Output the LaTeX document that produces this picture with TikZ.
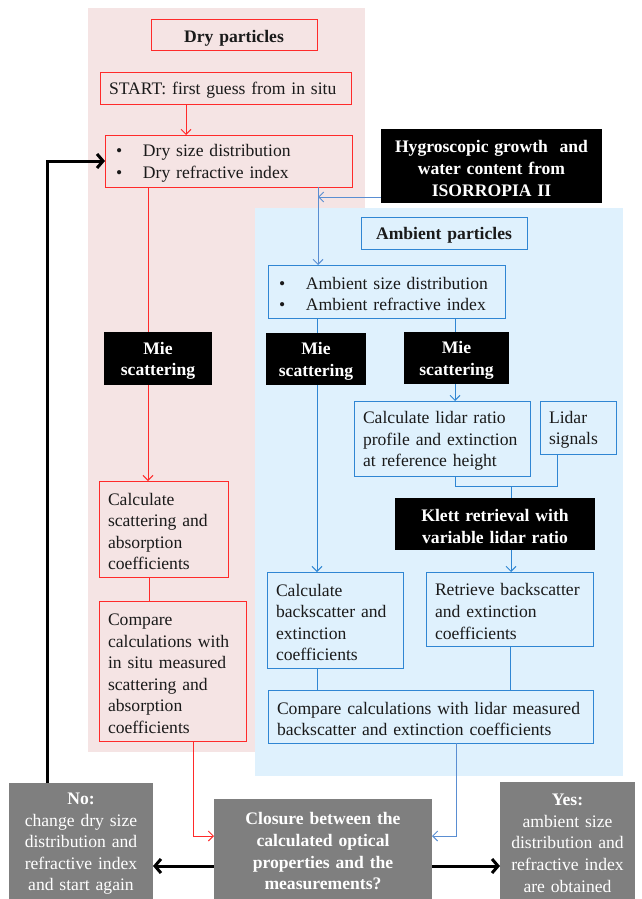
\documentclass[tikz,border=0pt]{standalone}
\usepackage{fontspec}
\setmainfont{Liberation Serif}
\usetikzlibrary{arrows.meta,calc}
\hyphenpenalty=10000
\exhyphenpenalty=10000
\definecolor{pinkbg}{HTML}{F5E4E4}
\definecolor{bluebg}{HTML}{DFF1FD}
\definecolor{redl}{HTML}{FF2A2A}
\definecolor{bluel}{HTML}{2F86D3}
\definecolor{bluea}{HTML}{5A8ED2}
\definecolor{grayb}{HTML}{7F7F7F}
\definecolor{txt}{HTML}{1A1A1A}
\newcommand\fs{\fontsize{17.6}{21.6}\selectfont}
\newcommand\mkbox[7]{%
  \pgfmathsetmacro\mkbw{#5-#3}%
  \pgfmathsetmacro\mkbh{#6-#4}%
  \pgfmathsetmacro\mktw{#5-#3-18}%
  \node[#1, anchor=north west, minimum width=\mkbw pt, minimum height=\mkbh pt, text width=\mktw pt] (#2) at (#3,#4) {\rule{0pt}{17pt}#7};%
}
\newcommand\bul{\makebox[27pt][l]{\textbullet}}
\begin{document}
\begin{tikzpicture}[x=1pt,y=-1pt,
  base/.style={inner xsep=9pt, inner ysep=1pt, outer sep=0pt, font=\fs, text=txt},
  rbox/.style={base, draw=redl, line width=1pt, align=left},
  bbox/.style={base, draw=bluel, line width=1pt, align=left},
  blk/.style={base, fill=black, text=white, font=\fs\bfseries, align=center},
  gry/.style={base, fill=grayb, text=white, align=center},
  rline/.style={draw=redl, line width=1pt},
  rarr/.style={rline, -{Straight Barb[length=5pt,width=10pt]}},
  bline/.style={draw=bluel, line width=1pt},
  barr/.style={bline, -{Straight Barb[length=5pt,width=10pt]}},
  barrA/.style={draw=bluea, line width=1pt, -{Straight Barb[length=5pt,width=10pt]}},
  karr/.style={draw=black, line width=3pt, -{Straight Barb[length=6pt,width=14pt]}}
]
\useasboundingbox (0,0) rectangle (641,899);
\fill[pinkbg] (88,8) rectangle (365,752);
\fill[bluebg] (255,208) rectangle (623,776);

\mkbox{rbox, align=center, font=\fs\bfseries}{dryp}{151}{20}{317}{51}{Dry particles}
\mkbox{rbox}{start}{100}{72}{351}{104}{START: first guess from in situ}
\mkbox{rbox, inner xsep=11pt}{drysz}{105}{135}{348}{187}{\bul Dry size distribution\\\bul Dry refractive index}
\mkbox{blk}{hyg}{381}{129}{602}{203}{Hygroscopic growth\ \ and\\water content from\\ISORROPIA II}
\mkbox{bbox, align=center, font=\fs\bfseries}{ambp}{361}{217}{527}{249}{Ambient particles}
\mkbox{bbox, inner xsep=11pt}{ambsz}{268}{265}{501}{318}{\bul Ambient size distribution\\\bul Ambient refractive index}
\mkbox{blk}{mie1}{104}{332}{212}{385}{Mie\\scattering}
\mkbox{blk}{mie2}{266}{333}{366}{385}{Mie\\scattering}
\mkbox{blk}{mie3}{404}{332}{509}{384}{Mie\\scattering}
\mkbox{bbox}{lidr}{354}{401}{530}{476}{Calculate lidar ratio\\profile and extinction\\at reference height}
\mkbox{bbox}{lsig}{540}{401}{616}{454}{Lidar\\signals}
\mkbox{blk}{klett}{395}{498}{595}{550}{Klett retrieval with\\variable lidar ratio}
\mkbox{rbox}{cscat}{99}{481}{228}{577}{Calculate\\scattering and\\absorption\\coefficients}
\mkbox{rbox}{cmpr}{99}{601}{246}{741}{Compare\\calculations with\\in situ measured\\scattering and\\absorption\\coefficients}
\mkbox{bbox}{cbsc}{267}{572}{403}{668}{Calculate\\backscatter and\\extinction\\coefficients}
\mkbox{bbox}{retr}{426}{572}{593}{646}{Retrieve backscatter\\and extinction\\coefficients}
\mkbox{bbox}{cmpb}{268}{690}{593}{743}{Compare calculations with lidar measured\\backscatter and extinction coefficients}
\mkbox{gry}{no}{9}{783}{153}{899}{\textbf{No:}\\change dry size\\distribution and\\refractive index\\and start again}
\mkbox{gry, font=\fs\bfseries}{clos}{214}{799}{432}{899}{Closure between the\\calculated optical\\properties and the\\measurements?}
\mkbox{gry}{yes}{500}{782}{635}{899}{\textbf{Yes:}\\ambient size\\distribution and\\refractive index\\are obtained}

% red connectors
\draw[rarr] (186,0 |- start.south) -- (186,0 |- drysz.north);
\draw[rline] (148,0 |- drysz.south) -- (148,0 |- mie1.north);
\draw[rarr] (148,0 |- mie1.south) -- (148,0 |- cscat.north);
\draw[rline] (149,0 |- cscat.south) -- (149,0 |- cmpr.north);
\coordinate (rc) at (193,836);
\draw[rarr] (193,0 |- cmpr.south) -- (rc) -- (clos.west |- rc);

% blue connectors
\coordinate (hj) at (318,197);
\draw[barrA] (318,0 |- drysz.south) -- (318,0 |- ambsz.north);
\draw[barrA] (hyg.west |- hj) -- (hj);
\draw[bline] (317,0 |- ambsz.south) -- (317,0 |- mie2.north);
\draw[barr] (317,0 |- mie2.south) -- (317,0 |- cbsc.north);
\draw[bline] (455,0 |- ambsz.south) -- (455,0 |- mie3.north);
\draw[barr] (455,0 |- mie3.south) -- (455,0 |- lidr.north);
\coordinate (la) at (455,486);
\coordinate (lb) at (557,486);
\coordinate (lk) at (511,486);
\draw[bline] (455,0 |- lidr.south) -- (la) -- (lb) -- (557,0 |- lsig.south);
\draw[bline] (lk) -- (511,0 |- klett.north);
\draw[barr] (511,0 |- klett.south) -- (511,0 |- retr.north);
\draw[bline] (317,0 |- cbsc.south) -- (317,0 |- cmpb.north);
\draw[bline] (510,0 |- retr.south) -- (510,0 |- cmpb.north);
\coordinate (bc) at (456,836);
\draw[barrA] (456,0 |- cmpb.south) -- (bc) -- (clos.east |- bc);

% black connectors
\coordinate (ky) at (0,866);
\draw[karr] (clos.west |- ky) -- (no.east |- ky);
\draw[karr] (clos.east |- ky) -- (yes.west |- ky);
\coordinate (kc) at (47,161);
\draw[karr, line join=miter] (47,0 |- no.north) -- (kc) -- (drysz.west |- kc);
\end{tikzpicture}
\end{document}
